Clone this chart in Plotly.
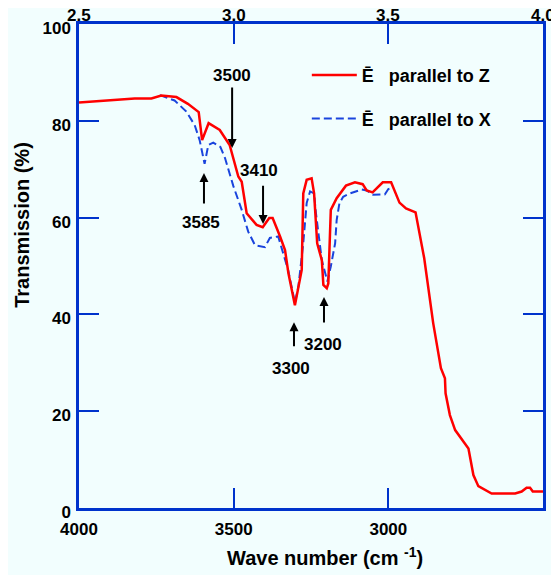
import plotly.graph_objects as go

# E parallel to Z (red, solid)
wn_z = [4000, 3896, 3820, 3766, 3734, 3685, 3648, 3613, 3602, 3581, 3545, 3513,
        3485, 3474, 3458, 3426, 3406, 3385, 3374, 3350, 3334, 3323, 3302, 3280,
        3275, 3264, 3248, 3240, 3230, 3215, 3210, 3199, 3194, 3186, 3167, 3137,
        3108, 3083, 3070, 3051, 3018, 2991, 2964, 2943, 2912, 2884, 2855, 2830,
        2817, 2815, 2801, 2784, 2741, 2725, 2709, 2666, 2590, 2569, 2553, 2542,
        2533, 2500]
tr_z = [83.8, 84.3, 84.6, 84.6, 85.2, 84.9, 83.5, 81.8, 76.0, 79.5, 78.1, 75.0,
        68.5, 67.4, 60.9, 58.5, 58.0, 59.9, 59.9, 56.1, 53.3, 48.5, 41.9, 49.2,
        65.0, 67.8, 68.1, 65.0, 54.7, 51.2, 46.1, 45.4, 46.4, 61.6, 64.0, 66.6,
        67.3, 66.9, 65.6, 65.2, 67.3, 67.3, 63.1, 61.9, 61.1, 51.6, 38.2, 28.9,
        26.8, 23.7, 19.2, 16.1, 12.3, 6.8, 4.5, 3.0, 3.0, 3.4, 4.2, 4.2,
        3.4, 3.4]

# E parallel to X (blue, dashed)
wn_x = [3739, 3691, 3653, 3626, 3610, 3594, 3582, 3566, 3543, 3528, 3501, 3474,
        3453, 3431, 3399, 3383, 3356, 3324, 3302, 3291, 3275, 3264, 3253, 3240,
        3234, 3215, 3197, 3186, 3172, 3167, 3158, 3146, 3124, 3086, 3070, 3049,
        3011, 3000, 2989]
tr_x = [85.3, 84.2, 81.9, 79.1, 76.0, 71.1, 75.0, 75.5, 74.6, 72.3, 66.5, 61.6,
        57.1, 54.3, 53.9, 55.8, 56.1, 49.2, 42.4, 45.7, 54.7, 63.0, 65.4, 65.0,
        60.9, 51.2, 46.8, 49.9, 54.7, 59.5, 63.0, 64.3, 65.0, 65.8, 65.6, 64.7,
        64.8, 65.9, 66.1]

# band labels and arrows (tip / tail in data units)
band_labels = ["3500", "3410", "3585", "3300", "3200"]
arrow_wn = [3505, 3405, 3596, 3305, 3208]
arrow_tip = [74.4, 58.7, 69.2, 38.4, 43.6]
arrow_tail = [87.2, 66.9, 62.6, 33.1, 38.0]
label_wn = [3504, 3418, 3606, 3315, 3211]
label_tr = [89.4, 69.7, 58.9, 28.9, 33.7]

wn_ticks = [4000, 3500, 3000, 2500]
um_ticks = [2.5, 3.0, 3.5, 4.0]
tr_ticks = [0, 20, 40, 60, 80, 100]

AX = "#0033CC"
BG = "#F2FEFE"
FONT = "Liberation Sans, Arial, sans-serif"

fig = go.Figure()
fig.add_trace(go.Scatter(x=wn_x, y=tr_x, mode="lines",
                         line=dict(color="#1a44dd", width=2, dash="8px,4px"),
                         name="\u0112\u00a0\u00a0 parallel to X",
                         legendgroup="x", legendrank=2))
fig.add_trace(go.Scatter(x=wn_z, y=tr_z, mode="lines",
                         line=dict(color="#FF0000", width=2.5),
                         name="\u0112\u00a0\u00a0 parallel to Z",
                         legendgroup="z", legendrank=1))
# invisible trace to carry the top wavelength axis
fig.add_trace(go.Scatter(x=[um_ticks[0], um_ticks[-1]], y=[None, None], xaxis="x2",
                         showlegend=False, hoverinfo="skip"))

for lab, xw, tip, tail, lx, ly in zip(band_labels, arrow_wn, arrow_tip, arrow_tail,
                                      label_wn, label_tr):
    fig.add_annotation(x=xw, y=tip, ax=xw, ay=tail, axref="x", ayref="y",
                       text="", showarrow=True, arrowhead=2, arrowsize=0.9,
                       arrowwidth=2, arrowcolor="black", standoff=0)
    fig.add_annotation(x=lx, y=ly, text="<b>%s</b>" % lab, showarrow=False,
                       font=dict(family=FONT, size=17, color="black"))

# top wavelength labels, set close to the axis line
for v in um_ticks:
    fig.add_annotation(x=v, xref="x2", y=1, yref="paper", yanchor="bottom",
                       yshift=-3, text="<b>%.1f</b>" % v, showarrow=False,
                       font=dict(family=FONT, size=17, color="black"))

fig.add_annotation(text="<b>Transmission (%)</b>", textangle=-90, showarrow=False,
                   xref="paper", yref="paper", x=-0.123, y=0.585,
                   xanchor="center", yanchor="middle",
                   font=dict(family=FONT, size=20, color="black"))
fig.add_annotation(text="<b>Wave number (cm <sup>-1</sup>)</b>", showarrow=False,
                   xref="paper", yref="paper", x=0.53, y=-0.101,
                   xanchor="center", yanchor="middle",
                   font=dict(family=FONT, size=20, color="black"))

axis_common = dict(showgrid=False, zeroline=False, showline=True, linecolor=AX,
                   linewidth=2.5, ticks="inside", ticklen=20, tickwidth=2,
                   tickcolor=AX, automargin=False,
                   tickfont=dict(family=FONT, size=17, color="black", weight="bold"))

# the page body adds an 8 px offset, so the figure is 8 px smaller than the window
fig.update_layout(
    width=551, height=567,
    paper_bgcolor=BG, plot_bgcolor=BG,
    margin=dict(l=71, r=16, t=16, b=67),
    xaxis=dict(range=[4000, 2500], tickvals=wn_ticks, mirror=False,
               ticklabelstandoff=4, **axis_common),
    xaxis2=dict(range=[2.5, 4.0], overlaying="x", side="top", tickvals=um_ticks,
                showticklabels=False, **axis_common),
    yaxis=dict(range=[0, 100], tickvals=tr_ticks, mirror="ticks",
               ticklabelshift=4, ticklabelstandoff=2, **axis_common),
    showlegend=True,
    legend=dict(x=0.491, y=0.932, xanchor="left", yanchor="top",
                bgcolor="rgba(0,0,0,0)", traceorder="grouped", tracegroupgap=17,
                itemwidth=45,
                font=dict(family=FONT, size=18, color="black", weight="bold")),
)

fig.write_html("out.html")
